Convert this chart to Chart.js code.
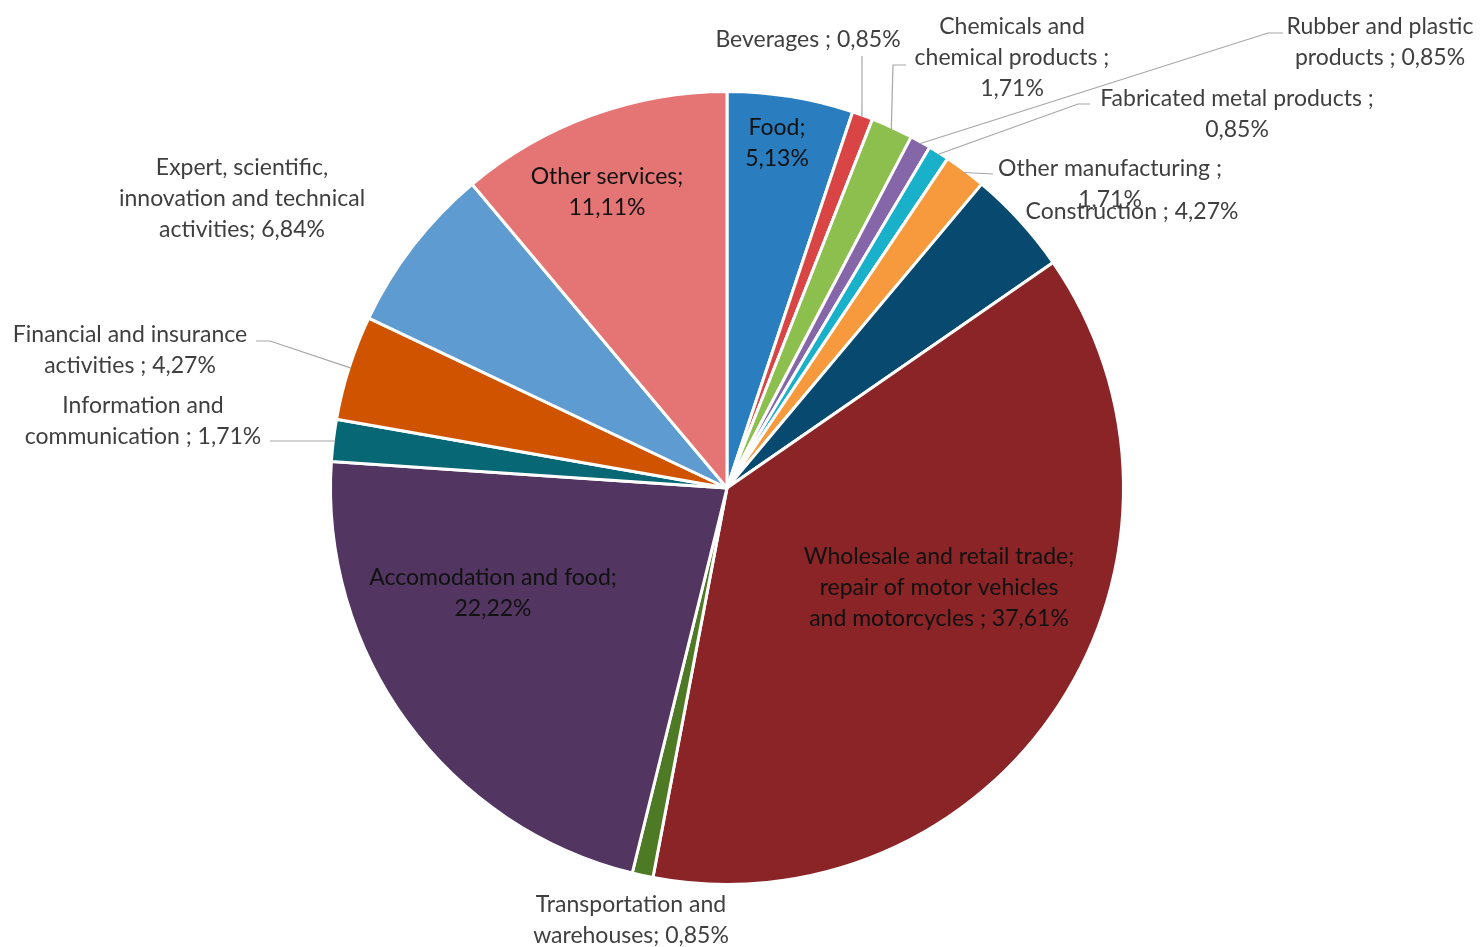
<!DOCTYPE html>
<html>
<head>
<meta charset="utf-8">
<script src="https://cdn.jsdelivr.net/npm/chart.js@4.4.1/dist/chart.umd.min.js"></script>
<style>
  html, body { margin: 0; padding: 0; background: #ffffff; }
  #wrap { width: 1480px; height: 947px; position: relative; }
</style>
</head>
<body>
<div id="wrap"><canvas id="pie" width="1480" height="947"></canvas></div>
<script>
// Sector shares of the companies (percent)
const categories = [
  'Food', 'Beverages', 'Chemicals and chemical products', 'Rubber and plastic products',
  'Fabricated metal products', 'Other manufacturing', 'Construction',
  'Wholesale and retail trade; repair of motor vehicles and motorcycles',
  'Transportation and warehouses', 'Accomodation and food', 'Information and communication',
  'Financial and insurance activities', 'Expert, scientific, innovation and technical activities',
  'Other services'
];
const shares = [5.13, 0.85, 1.71, 0.85, 0.85, 1.71, 4.27, 37.61, 0.85, 22.22, 1.71, 4.27, 6.84, 11.11];
const colors = [
  '#2a7ec0', '#d94445', '#8cbf4e', '#8566a8', '#19b0ca', '#f79a3e', '#07496f',
  '#8a2426', '#4f7a25', '#523560', '#086775', '#d05400', '#5d9bd0', '#e57474'
];
// Label text lines; {v} is replaced by the slice value
const labelLines = [
  ['Food;', '{v}'],
  ['Beverages ; {v}'],
  ['Chemicals and', 'chemical products ;', '{v}'],
  ['Rubber and plastic', 'products ; {v}'],
  ['Fabricated metal products ;', '{v}'],
  ['Other manufacturing ;', '{v}'],
  ['Construction ; {v}'],
  ['Wholesale and retail trade;', 'repair of motor vehicles', 'and motorcycles ; {v}'],
  ['Transportation and', 'warehouses; {v}'],
  ['Accomodation and food;', '{v}'],
  ['Information and', 'communication ; {v}'],
  ['Financial and insurance', 'activities ; {v}'],
  ['Expert, scientific,', 'innovation and technical', 'activities; {v}'],
  ['Other services;', '{v}']
];

// Label placement: centre x, first line y, inside flag, leader route (points before the arc edge)
const labelLayout = [
  { x: 777, y: 128, inside: true },
  { x: 808, y: 40, leader: [[862, 56]] },
  { x: 1012, y: 27, leader: [[906, 65], [893, 65]] },
  { x: 1380, y: 27, leader: [[1283, 33], [1268, 33]] },
  { x: 1237, y: 99, leader: [[1090, 104], [1078, 104]] },
  { x: 1110, y: 169, leader: [[993, 174]] },
  { x: 1132, y: 212 },
  { x: 939, y: 557, inside: true },
  { x: 631, y: 905 },
  { x: 493, y: 578, inside: true },
  { x: 143, y: 406, leader: [[270, 441]], endY: 441 },
  { x: 130, y: 335, leader: [[256, 341], [270, 341]] },
  { x: 242, y: 168 },
  { x: 607, y: 177, inside: true }
];

const fmt = v => v.toFixed(2).replace('.', ',') + '%';
const LINE_H = 31;
const FONT = '23px Lato, "Open Sans", sans-serif';

const sliceLabels = {
  id: 'sliceLabels',
  afterDatasetsDraw(chart) {
    const ctx = chart.ctx;
    const meta = chart.getDatasetMeta(0);
    ctx.save();
    meta.data.forEach((arc, i) => {
      const lay = labelLayout[i];
      const p = arc.getProps(['x', 'y', 'startAngle', 'endAngle', 'outerRadius'], true);
      // leader line from label to the slice's outer edge
      if (lay.leader) {
        const mid = (p.startAngle + p.endAngle) / 2;
        let ex = p.x + Math.cos(mid) * (p.outerRadius - 2);
        let ey = p.y + Math.sin(mid) * (p.outerRadius - 2);
        if (lay.endY !== undefined) {
          ey = lay.endY;
          ex = p.x - Math.sqrt(p.outerRadius * p.outerRadius - (ey - p.y) * (ey - p.y)) + 2;
        }
        ctx.beginPath();
        ctx.strokeStyle = '#a6a6a6';
        ctx.lineWidth = 1.2;
        ctx.moveTo(lay.leader[0][0], lay.leader[0][1]);
        for (let k = 1; k < lay.leader.length; k++) ctx.lineTo(lay.leader[k][0], lay.leader[k][1]);
        ctx.lineTo(ex, ey);
        ctx.stroke();
      }
      ctx.font = FONT;
      ctx.textAlign = 'center';
      ctx.textBaseline = 'middle';
      ctx.fillStyle = lay.inside ? '#111111' : '#3f3f3f';
      const v = chart.data.datasets[0].data[i];
      labelLines[i].forEach((ln, k) => {
        ctx.fillText(ln.replace('{v}', fmt(v)), lay.x, lay.y + k * LINE_H);
      });
    });
    ctx.restore();
  }
};

new Chart(document.getElementById('pie'), {
  type: 'pie',
  data: {
    labels: categories,
    datasets: [{
      data: shares,
      backgroundColor: colors,
      borderColor: '#ffffff',
      borderWidth: 3
    }]
  },
  options: {
    responsive: false,
    animation: false,
    layout: { padding: { top: 90, bottom: 61, left: 329, right: 355 } },
    plugins: {
      legend: { display: false },
      tooltip: { enabled: false }
    }
  },
  plugins: [sliceLabels]
});
</script>
</body>
</html>
